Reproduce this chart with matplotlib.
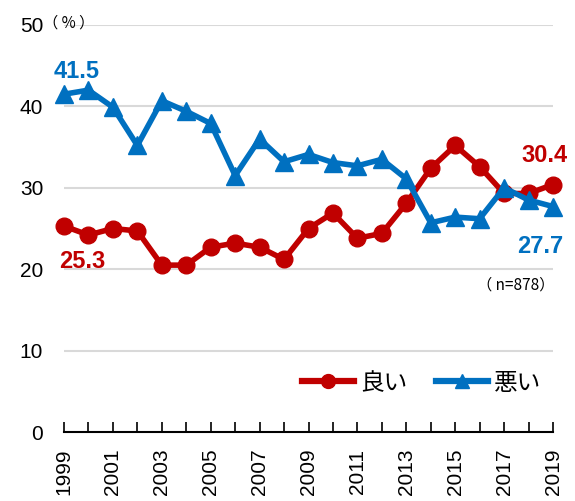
import matplotlib
matplotlib.use('Agg')
import matplotlib.pyplot as plt
from matplotlib.lines import Line2D

plt.rcParams['font.family'] = ['Liberation Sans', 'Noto Sans CJK JP']

years = list(range(1999, 2020))
good = [25.3, 24.2, 25.0, 24.7, 20.5, 20.5, 22.7, 23.2, 22.7, 21.2,
        25.0, 26.9, 23.8, 24.4, 28.1, 32.4, 35.2, 32.6, 29.3, 29.3, 30.4]
bad = [41.5, 42.0, 39.9, 35.2, 40.7, 39.4, 37.9, 31.5, 36.0, 33.2,
       34.1, 33.1, 32.7, 33.5, 31.1, 25.7, 26.4, 26.2, 30.0, 28.5, 27.7]
labels = ['良い', '悪い']
y_ticks = [0, 10, 20, 30, 40, 50]

RED = '#C00000'
BLUE = '#0070C0'
JP = ['Noto Sans CJK JP', 'DejaVu Sans']

fig = plt.figure(figsize=(5.75, 5.01), dpi=100)
ax = fig.add_axes([64 / 575, 1 - 432 / 501, (553 - 64) / 575, (432 - 25) / 501])

for v in y_ticks[1:]:
    ax.axhline(v, color='#d9d9d9', lw=1.5, zorder=0)

ax.plot(years, good, color=RED, lw=4, marker='o', ms=12, clip_on=False, zorder=3)
ax.plot(years, bad, color=BLUE, lw=4, marker='^', ms=13, clip_on=False, zorder=4)

ax.set_xlim(1999, 2019)
ax.set_ylim(0, 50)
ax.set_yticks(y_ticks)
ax.set_yticklabels([str(v) for v in y_ticks], fontsize=15)
ax.set_xticks(years)
ax.set_xticklabels([str(y) if (y - 1999) % 2 == 0 else '' for y in years],
                   rotation=90, fontsize=15)
ax.tick_params(axis='y', length=0, pad=15)
ax.tick_params(axis='x', direction='in', length=7, width=1.2, pad=12)
for s in ['top', 'right', 'left']:
    ax.spines[s].set_visible(False)
ax.spines['bottom'].set_linewidth(1.5)

# unit label and sample size
ax.text(-0.042, 50.3, '（ % ）', transform=ax.get_yaxis_transform(), fontsize=11,
        family=JP, ha='left', va='center')
ax.text(2019.05, 18.1, '（ n=878）', fontsize=11, family=JP, ha='right', va='center')

# end-point labels
ax.text(1999.53, 43.5, f'{bad[0]}', color=BLUE, fontsize=17, fontweight='bold', ha='center')
ax.text(1999.74, 20.15, f'{good[0]}', color=RED, fontsize=17, fontweight='bold', ha='center')
ax.text(2018.67, 33.2, f'{good[-1]}', color=RED, fontsize=17, fontweight='bold', ha='center')
ax.text(2018.47, 22.0, f'{bad[-1]}', color=BLUE, fontsize=17, fontweight='bold', ha='center')

handles = [Line2D([], [], color=RED, lw=4.5, marker='o', ms=10),
           Line2D([], [], color=BLUE, lw=4.5, marker='^', ms=10)]
leg = ax.legend(handles, labels, loc='center right', bbox_to_anchor=(0.975, 0.12),
                frameon=False, handlelength=2.2, handletextpad=0.25, borderpad=0,
                borderaxespad=0, ncol=2, columnspacing=1.2,
                prop={'family': JP, 'size': 17})

fig.savefig('out.png', dpi=100)
